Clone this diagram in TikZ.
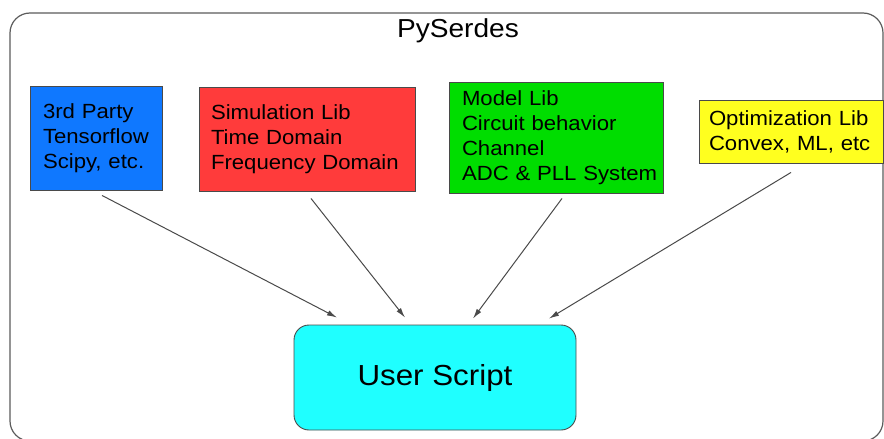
\documentclass[tikz,border=0pt]{standalone}
\usepackage{fontspec}
\setmainfont{Liberation Sans}[FakeStretch=1.08]
\usetikzlibrary{arrows.meta,calc}
\definecolor{cblue}{HTML}{0F78FF}
\definecolor{cred}{HTML}{FF3B3B}
\definecolor{cgreen}{HTML}{00DD00}
\definecolor{cyellow}{HTML}{FFFF1F}
\definecolor{ccyan}{HTML}{1FFFFF}
\definecolor{cline}{HTML}{4A4A4A}
\tikzset{
  libbox/.style={draw=cline, line width=0.9pt, inner sep=0pt, align=left,
    font=\fontsize{20.5}{25}\selectfont},
  arr/.style={draw=cline, line width=1pt, -{Latex[length=10pt,width=5.5pt]}},
}
\begin{document}
\begin{tikzpicture}[x=1pt,y=-1pt]
\useasboundingbox (0,0) rectangle (884,439);
\fill[white] (0,0) rectangle (884,439);
\draw[cline!90, line width=1.2pt, rounded corners=20pt] (10,13) rectangle (883,441);
\node[font=\fontsize{26}{31}\selectfont] (title) at (458,31) {PySerdes};

\node[libbox, fill=cblue, minimum width=132pt, minimum height=104pt, text width=106pt] (blue) at (96,138)
  {\mbox{3rd Party}\\\mbox{Tensorflow}\\\mbox{Scipy, etc.}};
\node[libbox, fill=cred, minimum width=216pt, minimum height=104pt, text width=192pt] (red) at (307,139)
  {\mbox{Simulation Lib}\\\mbox{Time Domain}\\\mbox{Frequency Domain}};
\node[libbox, fill=cgreen, minimum width=214pt, minimum height=111pt, text width=188pt] (green) at (556,137.5)
  {\mbox{Model Lib}\\\mbox{Circuit behavior}\\\mbox{Channel}\\\mbox{ADC \& PLL System}};
\node[libbox, fill=cyellow, minimum width=184pt, minimum height=63pt, text width=164pt] (yellow) at (791,131.5)
  {\mbox{Optimization Lib}\\\mbox{Convex, ML, etc}};

\node[draw=cline, line width=0.9pt, fill=ccyan, rounded corners=15pt, minimum width=282pt, minimum height=105pt,
  inner sep=0pt, font=\fontsize{29}{34}\selectfont] (user) at (435,377.5) {User Script};

\draw[arr] ($(blue.south)+(6,5)$) -- ($(user.north)+(-98,-7)$);
\draw[arr] ($(red.south)+(4,7)$) -- ($(user.north)+(-30,-7)$);
\draw[arr] ($(green.south)+(6,5)$) -- ($(user.north)+(38,-6)$);
\draw[arr] ($(yellow.south)+(0,9)$) -- ($(user.north)+(114,-6)$);
\end{tikzpicture}
\end{document}
